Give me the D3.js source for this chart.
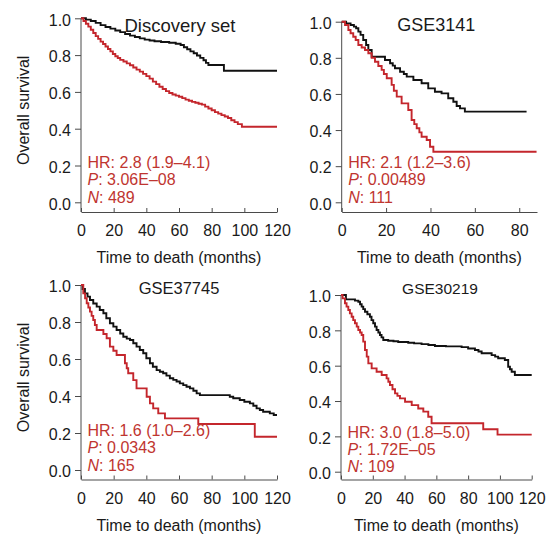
<!DOCTYPE html>
<html>
<head>
<meta charset="utf-8">
<script src="https://cdn.jsdelivr.net/npm/d3@7"></script>
<style>
  html, body { margin: 0; padding: 0; background: #ffffff; }
  svg { display: block; }
  text { font-family: "Liberation Sans", Arial, Helvetica, sans-serif; }
</style>
</head>
<body>
<svg id="chart" width="550" height="539"></svg>
<script>
// Kaplan–Meier estimates: [months, survival probability]; last pair = end of follow-up
const discoveryLow = [[0,1],[3,0.993],[6,0.985],[9,0.975],[12,0.963],[15,0.953],[18,0.944],[21,0.934],[24,0.925],[27,0.915],[30,0.906],[33,0.898],[36,0.891],[39,0.884],[42,0.879],[45,0.875],[49,0.871],[54,0.867],[58,0.862],[61,0.855],[63,0.843],[65,0.832],[67,0.82],[69,0.81],[71,0.798],[73,0.785],[75,0.772],[76.5,0.758],[78,0.746],[87.5,0.715],[120,0.715]];
const discoveryHigh = [[0,1],[1.5,0.985],[3,0.97],[4.5,0.955],[6,0.938],[7.5,0.92],[9,0.903],[10.5,0.888],[12,0.873],[13.5,0.86],[15,0.847],[16.5,0.833],[18,0.82],[19.5,0.806],[21,0.794],[22.5,0.784],[24,0.774],[26,0.765],[28,0.755],[30,0.745],[32,0.733],[34,0.721],[36,0.71],[38,0.698],[40,0.686],[42,0.672],[44,0.656],[46,0.642],[48,0.628],[50,0.616],[52,0.604],[54,0.594],[56,0.586],[58,0.58],[60,0.574],[62,0.566],[64,0.558],[66,0.552],[68,0.546],[70,0.541],[72,0.536],[74,0.531],[76,0.52],[78,0.51],[80,0.5],[82,0.49],[84,0.482],[86,0.474],[88,0.466],[90,0.458],[92,0.446],[94,0.436],[96,0.425],[98.5,0.411],[120,0.411]];

const gse3141Low = [[0,1],[2,0.991],[4,0.982],[5.5,0.973],[6.5,0.964],[7.5,0.945],[8.5,0.927],[9.7,0.899],[11,0.871],[12,0.843],[13.5,0.806],[19.5,0.788],[21.8,0.77],[23,0.757],[24,0.742],[26.3,0.723],[28,0.71],[29.3,0.696],[32.3,0.677],[36,0.659],[39,0.631],[42,0.612],[45,0.603],[48,0.576],[50.3,0.557],[51.8,0.533],[53.3,0.52],[55.5,0.502],[83.3,0.502]];
const gse3141High = [[0,1],[1.5,0.982],[3,0.954],[4,0.936],[5.2,0.917],[6.3,0.899],[7.5,0.871],[9,0.857],[10.5,0.843],[12,0.825],[13.5,0.8],[15,0.778],[16.5,0.755],[18,0.733],[19,0.71],[20.3,0.687],[22.5,0.65],[23.5,0.618],[24.8,0.585],[27,0.548],[30,0.511],[31.5,0.456],[32.7,0.433],[33.8,0.41],[35,0.387],[36,0.363],[38.3,0.345],[39.8,0.308],[41.3,0.28],[87.8,0.28]];

const gse37745Low = [[0,1],[1,0.978],[2.4,0.955],[4,0.937],[5.5,0.919],[7.5,0.9],[9.6,0.883],[11.5,0.865],[13.7,0.847],[15.5,0.82],[17.7,0.793],[19.8,0.775],[21.8,0.757],[24,0.738],[25.9,0.72],[28,0.71],[30,0.703],[32,0.685],[34,0.667],[36,0.649],[38.1,0.631],[40,0.604],[42.2,0.577],[44,0.558],[46.3,0.54],[48.3,0.531],[50.3,0.523],[52.3,0.51],[54.4,0.496],[56.5,0.487],[58.5,0.478],[60.5,0.468],[62.6,0.459],[64.6,0.45],[66.7,0.441],[68.8,0.428],[70.8,0.414],[72.8,0.405],[91.1,0.396],[93.2,0.388],[97.2,0.378],[100,0.369],[103.4,0.36],[105.5,0.347],[107.5,0.333],[109.5,0.324],[111.5,0.315],[115.6,0.306],[118,0.297],[120,0.297]];
const gse37745High = [[0,1],[1.4,0.955],[2.5,0.928],[3.5,0.901],[4.5,0.878],[5.5,0.856],[6.5,0.833],[7.5,0.811],[8.5,0.784],[9.6,0.757],[13.7,0.735],[15.7,0.712],[17.7,0.667],[19.8,0.645],[21.8,0.622],[26.9,0.577],[28,0.55],[28.9,0.523],[32,0.486],[34,0.441],[40.2,0.396],[42.2,0.36],[44.2,0.333],[47.3,0.306],[51.4,0.279],[71.8,0.249],[106.4,0.18],[120,0.18]];

const gse30219Low = [[0,1],[3.1,0.975],[8.8,0.968],[10.9,0.962],[12,0.948],[13,0.934],[14,0.92],[15.1,0.905],[16.6,0.891],[18.2,0.877],[19.2,0.858],[20.3,0.84],[21.4,0.821],[22.4,0.802],[23.5,0.788],[24.5,0.774],[25.5,0.76],[26.6,0.745],[29.7,0.741],[33,0.738],[36,0.734],[42.3,0.73],[46,0.726],[50.7,0.722],[55,0.717],[59.1,0.711],[66,0.709],[75.9,0.705],[80,0.697],[84.3,0.689],[86.5,0.68],[88.5,0.67],[94.8,0.66],[97,0.651],[98.9,0.642],[103.1,0.632],[105.2,0.594],[106.3,0.58],[107.4,0.566],[109.4,0.547],[120,0.547]];
const gse30219High = [[0,1],[1,0.981],[2.5,0.953],[3.5,0.934],[4.6,0.915],[5.6,0.896],[6.7,0.877],[7.7,0.858],[8.8,0.84],[9.9,0.821],[10.9,0.802],[12,0.788],[13,0.774],[14,0.736],[15.1,0.689],[16.2,0.651],[17.2,0.613],[19.3,0.585],[22.4,0.566],[25.6,0.547],[28.7,0.528],[29.8,0.509],[30.8,0.491],[32.4,0.467],[34,0.443],[35.5,0.429],[37.1,0.415],[40.3,0.396],[44.5,0.377],[48.6,0.358],[51.8,0.34],[54.9,0.311],[57,0.274],[89.5,0.24],[98.5,0.21],[120,0.21]];

// Cohort labels and Cox model statistics
const panelTitles = ["Discovery set", "GSE3141", "GSE37745", "GSE30219"];
const hrLabels = ["2.8 (1.9–4.1)", "2.1 (1.2–3.6)", "1.6 (1.0–2.6)", "3.0 (1.8–5.0)"];
const pLabels = ["3.06E–08", "0.00489", "0.0343", "1.72E–05"];
const nLabels = ["489", "111", "165", "109"];

// Axis ticks and ranges
const survivalTicks = [0, 0.2, 0.4, 0.6, 0.8, 1.0];
const monthTicks120 = [0, 20, 40, 60, 80, 100, 120];
const monthTicks80 = [0, 20, 40, 60, 80];
const monthMax = [120, 88, 120, 120];

// Panel geometry (pixel frame of each plot)
const panels = [
  { low: discoveryLow, high: discoveryHigh, ticks: monthTicks120, x0: 81, x1: 277, yTop: 18.3, yBot: 202.3, axisY: 212, titleX: 180, titleY: 32.3, titleSize: 18.5, yTitle: true },
  { low: gse3141Low, high: gse3141High, ticks: monthTicks80, x0: 341.7, x1: 537, yTop: 21.7, yBot: 202.3, axisY: 212, titleX: 436.3, titleY: 30.7, titleSize: 18, yTitle: false },
  { low: gse37745Low, high: gse37745High, ticks: monthTicks120, x0: 81, x1: 277, yTop: 285, yBot: 470, axisY: 479.5, titleX: 179, titleY: 294, titleSize: 16.5, yTitle: true },
  { low: gse30219Low, high: gse30219High, ticks: monthTicks120, x0: 341, x1: 531.7, yTop: 295, yBot: 471.7, axisY: 479.5, titleX: 440, titleY: 294, titleSize: 15.5, yTitle: false }
];

const svg = d3.select("#chart");
const axisColor = "#4a4a4a";
const lowColor = "#111111";
const highColor = "#c4262c";
const statColor = "#bf3530";

panels.forEach((p, i) => {
  const x = d3.scaleLinear().domain([0, monthMax[i]]).range([p.x0, p.x1]);
  const y = d3.scaleLinear().domain([0, 1]).range([p.yBot, p.yTop]);
  const g = svg.append("g");

  // y axis
  const yAxis = d3.axisLeft(y).tickValues(survivalTicks).tickFormat(d3.format(".1f")).tickSize(6).tickPadding(4);
  const gy = g.append("g").attr("transform", `translate(${p.x0},0)`).call(yAxis);
  gy.select(".domain").remove();
  gy.selectAll(".tick line").attr("stroke", axisColor);
  gy.selectAll(".tick text").attr("font-size", 16).attr("fill", "#1a1a1a").attr("dy", "0.42em")
    .attr("font-family", "Liberation Sans, Arial, sans-serif");
  g.append("line").attr("x1", p.x0).attr("x2", p.x0).attr("y1", y(1)).attr("y2", p.axisY)
    .attr("stroke", axisColor).attr("stroke-width", 1);

  // x axis (ticks point into the plot)
  const xAxis = d3.axisBottom(x).tickValues(p.ticks).tickFormat(d3.format("d")).tickSizeInner(-4).tickSizeOuter(0);
  const gx = g.append("g").attr("transform", `translate(0,${p.axisY})`).call(xAxis);
  gx.select(".domain").attr("stroke", axisColor);
  gx.selectAll(".tick line").attr("stroke", axisColor);
  gx.selectAll(".tick text").attr("font-size", 16).attr("fill", "#1a1a1a").attr("y", 24).attr("dy", null)
    .attr("font-family", "Liberation Sans, Arial, sans-serif");

  // axis titles
  g.append("text").attr("x", (p.x0 + p.x1) / 2).attr("y", p.axisY + 51)
    .attr("text-anchor", "middle").attr("font-size", 16).attr("fill", "#1a1a1a")
    .text("Time to death (months)");
  if (p.yTitle) {
    g.append("text").attr("transform", `translate(29,${(p.yTop + p.yBot) / 2}) rotate(-90)`)
      .attr("text-anchor", "middle").attr("font-size", 16).attr("fill", "#1a1a1a")
      .text("Overall survival");
  }

  // survival curves
  const line = d3.line().x(d => x(d[0])).y(d => y(d[1])).curve(d3.curveStepAfter);
  g.append("path").datum(p.low).attr("d", line).attr("fill", "none")
    .attr("stroke", lowColor).attr("stroke-width", 1.9);
  g.append("path").datum(p.high).attr("d", line).attr("fill", "none")
    .attr("stroke", highColor).attr("stroke-width", 1.9);

  // panel title
  g.append("text").attr("x", p.titleX).attr("y", p.titleY).attr("text-anchor", "middle")
    .attr("font-size", p.titleSize).attr("fill", "#1a1a1a").text(panelTitles[i]);

  // statistics
  const sx = p.x0 + 6.5;
  const st = g.append("g").attr("fill", statColor).attr("font-size", 16);
  st.append("text").attr("x", sx).attr("y", p.yBot - 34).text("HR: " + hrLabels[i]);
  const pt = st.append("text").attr("x", sx).attr("y", p.yBot - 17);
  pt.append("tspan").attr("font-style", "italic").text("P");
  pt.append("tspan").text(": " + pLabels[i]);
  const nt = st.append("text").attr("x", sx).attr("y", p.yBot + 0.5);
  nt.append("tspan").attr("font-style", "italic").text("N");
  nt.append("tspan").text(": " + nLabels[i]);
});
</script>
</body>
</html>
